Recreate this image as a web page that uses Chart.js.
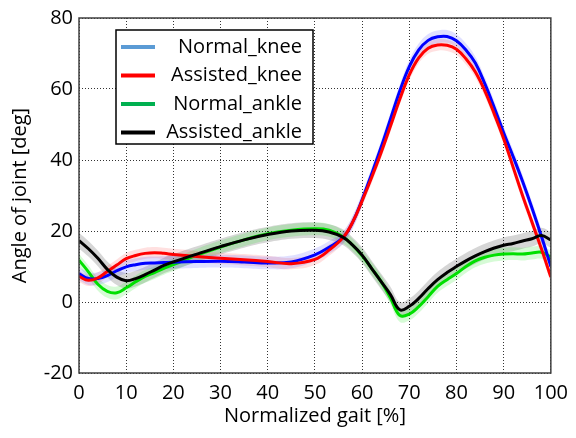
<!DOCTYPE html>
<html>
<head>
<meta charset="utf-8">
<script src="https://cdn.jsdelivr.net/npm/chart.js@4/dist/chart.umd.min.js"></script>
<style>
html,body{margin:0;padding:0;background:#fff}
#wrap{width:576px;height:438px;position:relative}
</style>
</head>
<body>
<div id="wrap"><canvas id="c"></canvas></div>
<script>
// gait cycle positions [%]
const gait = [0,2,4,6,8,10,12,14,16,18,20,25,30,35,40,45,50,53,56,58,60,62,64,66,68,70,72,74,76,78,80,82,84,86,88,90,92,94,96,98,100];

// joint angles [deg]
const normalKnee   = [8,6.6,6.6,7.4,8.8,9.9,10.5,10.9,11,11.1,11.2,11.4,11.5,11.3,11,11.3,13.3,15.4,18.2,22.5,28.8,36,43.5,51.5,59.5,66.3,71,73.7,74.7,74.8,73.6,71,67.3,61.5,54.8,47.7,41,34,26.5,18.5,10];
const assistedKnee = [7.2,6.1,6.8,8.6,10.4,12.2,13.1,13.7,13.9,13.7,13.4,12.8,12.3,11.9,11.4,10.8,12,14.6,18.2,22.5,28.5,35,42,49.5,57.2,64,68.8,71.5,72.4,72.3,71.2,68.5,64.8,59.5,53,46,38,30,22.5,15,7];
const normalAnkle  = [11.8,8.5,5,3,2.6,4,5.7,7.2,8.3,9.5,10.5,13.2,15.5,17.5,19.2,20.2,20.6,20.2,18.3,16,13,9.5,5.8,1.2,-3.8,-3.4,-1.3,1.5,4.4,6.3,8,10,11.6,12.6,13.2,13.5,13.6,13.5,13.8,14,12.7];
const assistedAnkle= [17.3,15,12.3,9.2,7,6,6.6,7.7,9,10.3,11.3,13.5,15.6,17.5,19,20,20.2,19.7,18.2,16,13.2,9.5,5.8,2.1,-2.2,-1.2,1,3.8,6.3,8.3,10,11.6,13,14.2,15.2,16,16.5,17.2,17.8,18.7,17.5];

// spread of each series [deg]
const spread = [1.8,1.6,1.8,2.2];

const seriesNames = ["Normal_knee","Assisted_knee","Normal_ankle","Assisted_ankle"];
const seriesData = [normalKnee,assistedKnee,normalAnkle,assistedAnkle];
const lineColors = ["#0000ff","#ff0000","#00e000","#000000"];
const bandColors = ["rgba(70,70,255,0.17)","rgba(255,70,70,0.17)","rgba(0,230,0,0.16)","rgba(0,0,0,0.16)"];
const legendColors = ["#5b9bd5","#ff0000","#00b050","#000000"];

const xTicks = [0,10,20,30,40,50,60,70,80,90,100];
const yTicks = [-20,0,20,40,60,80];

const FONT = "'Open Sans', 'Noto Sans', sans-serif";
const TENSION = 0.4;

function pts(arr, off){
  return arr.map((v,i)=>({x:gait[i], y:v+off}));
}

/* -----------------------------
   DATASETS
------------------------------ */
let datasets = [];
seriesData.forEach((arr,i)=>{
  // upper edge of band
  datasets.push({
    data: pts(arr, spread[i]),
    borderWidth: 0, pointRadius: 0, fill: false,
    tension: TENSION, order: 20
  });
  // lower edge, filled to upper
  datasets.push({
    data: pts(arr, -spread[i]),
    borderWidth: 0, pointRadius: 0, fill: "-1",
    backgroundColor: bandColors[i],
    tension: TENSION, order: 20
  });
});
const lineOrder = [3,2,4,1];
seriesData.forEach((arr,i)=>{
  datasets.push({
    label: seriesNames[i],
    data: pts(arr, 0),
    borderColor: lineColors[i],
    borderWidth: 3, pointRadius: 0, fill: false,
    tension: TENSION, order: lineOrder[i]
  });
});

/* -----------------------------
   PLUGINS
------------------------------ */
const frame = {
  id: "frame",
  afterDraw(chart){
    const a = chart.chartArea, ctx = chart.ctx;
    ctx.save();
    ctx.strokeStyle = "#404040";
    ctx.lineWidth = 1.5;
    ctx.strokeRect(a.left, a.top, a.right-a.left, a.bottom-a.top);
    ctx.restore();
  }
};

const legendBox = {
  id: "legendBox",
  afterDraw(chart){
    const a = chart.chartArea, ctx = chart.ctx;
    const x0 = a.left + 37, y0 = a.top + 12, w = 197, h = 114;
    ctx.save();
    ctx.fillStyle = "#fff";
    ctx.fillRect(x0, y0, w, h);
    ctx.strokeStyle = "#000";
    ctx.lineWidth = 1.5;
    ctx.strokeRect(x0, y0, w, h);
    ctx.font = "20px " + FONT;
    ctx.textAlign = "right";
    ctx.textBaseline = "middle";
    seriesNames.forEach((name,i)=>{
      const y = y0 + 17 + i*28.5;
      ctx.strokeStyle = legendColors[i];
      ctx.lineWidth = 4;
      ctx.beginPath();
      ctx.moveTo(x0+5, y);
      ctx.lineTo(x0+39, y);
      ctx.stroke();
      ctx.fillStyle = "#000";
      ctx.fillText(name, x0+w-11, y);
    });
    ctx.restore();
  }
};

/* -----------------------------
   CHART
------------------------------ */
new Chart(document.getElementById("c"), {
  type: "line",
  data: { datasets },
  options: {
    responsive: true,
    maintainAspectRatio: false,
    animation: false,
    layout: { padding: { top: 12, right: 19, left: 0, bottom: 0 } },
    plugins: { legend: { display: false }, tooltip: { enabled: false } },
    scales: {
      x: {
        type: "linear", min: 0, max: 100,
        afterBuildTicks: s => { s.ticks = xTicks.map(v=>({value:v})); },
        afterFit: s => { s.height = 65; },
        grid: { color: "#333", lineWidth: 1, drawTicks: false },
        border: { display: false, dash: [1,2] },
        ticks: { color: "#000", padding: 8, font: { size: 20, family: FONT } },
        title: { display: true, text: "Normalized gait [%]", color: "#000",
                 padding: { top: 0, bottom: 10 }, font: { size: 20, family: FONT } }
      },
      y: {
        min: -20, max: 80,
        afterBuildTicks: s => { s.ticks = yTicks.map(v=>({value:v})); },
        afterFit: s => { s.width = 79; },
        grid: { color: "#333", lineWidth: 1, drawTicks: false },
        border: { display: false, dash: [1,2] },
        ticks: { color: "#000", padding: 6, font: { size: 20, family: FONT } },
        title: { display: true, text: "Angle of joint [deg]", color: "#000",
                 padding: { top: 8, bottom: 0 }, font: { size: 20, family: FONT } }
      }
    }
  },
  plugins: [frame, legendBox]
});
</script>
</body>
</html>
